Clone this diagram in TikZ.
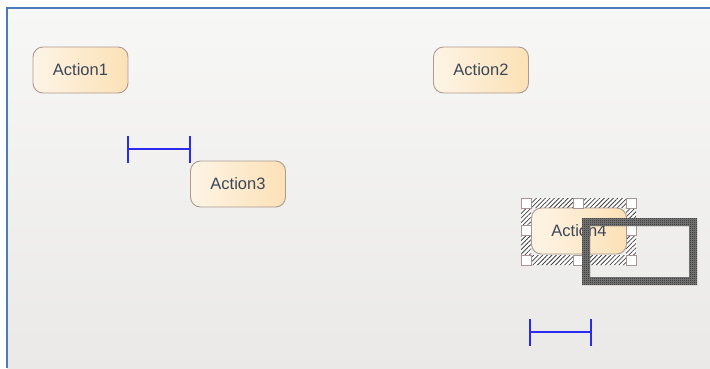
\documentclass[tikz,border=0pt]{standalone}
\usepackage{fontspec}
\setmainfont{Liberation Sans}
\usetikzlibrary{patterns.meta}
\definecolor{frameblue}{HTML}{4A7BBD}
\definecolor{bgtop}{HTML}{F7F7F6}
\definecolor{bgbot}{HTML}{EAE9E8}
\definecolor{actleft}{HTML}{FDF4E6}
\definecolor{actright}{HTML}{FCE1B6}
\definecolor{actborder}{HTML}{AD9A92}
\definecolor{acttext}{HTML}{3C4656}
\definecolor{barblue}{HTML}{2A2AF0}
\definecolor{handleborder}{HTML}{A89696}
\definecolor{checkbase}{HTML}{7A7A7A}
\definecolor{checkdark}{HTML}{262626}

\pgfdeclarepattern{
  name=checkers,
  bottom left={\pgfpoint{0pt}{0pt}},
  top right={\pgfpoint{2pt}{2pt}},
  tile size={\pgfpoint{2pt}{2pt}},
  code={
    \pgfpathrectangle{\pgfpoint{0pt}{0pt}}{\pgfpoint{1pt}{1pt}}
    \pgfpathrectangle{\pgfpoint{1pt}{1pt}}{\pgfpoint{1pt}{1pt}}
    \pgfusepath{fill}
  }
}

\tikzset{
  action/.style={rounded corners=10pt, draw=actborder, line width=0.9pt,
    left color=actleft, right color=actright,
    minimum width=95pt, minimum height=46pt, inner sep=0pt,
    text=acttext, font=\fontsize{16.5}{18}\selectfont},
  hbar/.style={draw=barblue, line width=1.3pt},
  handle/.style={draw=handleborder, fill=white, line width=0.6pt},
}

\begin{document}
\begin{tikzpicture}[x=1pt, y=-1pt]
  \useasboundingbox (0,0) rectangle (710,368);
  % canvas and its frame
  \fill[white] (0,0) rectangle (710,368);
  \shade[top color=bgtop, bottom color=bgbot] (7,8) rectangle (710,368);
  \draw[frameblue, line width=2pt] (7,368) -- (7,8) -- (710,8);

  % actions
  \node[action] (a1) at (80.5,70) {Action1};
  \node[action] (a2) at (481,70) {Action2};
  \node[action] (a3) at (238,184) {Action3};

  % selection frame round Action4
  \fill[even odd rule, white] (521,198) rectangle (636,265) (531,208) rectangle (626,255);
  \fill[even odd rule, pattern={Lines[angle=45, distance=3.2pt, line width=0.8pt]},
        pattern color=black!75]
        (521,198) rectangle (636,265) (531,208) rectangle (626,255);
  \node[action] (a4) at (579,231) {Action4};
  \foreach \hx in {521,573,626}
    \foreach \hy in {198,255}
      \draw[handle] (\hx,\hy) rectangle ++(10,10);
  \draw[handle] (521,225) rectangle ++(10,10);
  \draw[handle] (626,225) rectangle ++(10,10);

  % dragged outline
  \fill[even odd rule, checkbase] (582,218) rectangle (697,285) (590,226) rectangle (689,277);
  \fill[even odd rule, pattern=checkers, pattern color=checkdark]
        (582,218) rectangle (697,285) (590,226) rectangle (689,277);

  % bars
  \coordinate (b1l) at (128,149);
  \coordinate (b1r) at (190,149);
  \draw[hbar] (b1l) -- (b1r);
  \draw[hbar] ([yshift=-14pt]b1l) -- ([yshift=13pt]b1l);
  \draw[hbar] ([yshift=-14pt]b1r) -- ([yshift=13pt]b1r);

  \coordinate (b2l) at (530,332);
  \coordinate (b2r) at (591,332);
  \draw[hbar] (b2l) -- (b2r);
  \draw[hbar] ([yshift=-14pt]b2l) -- ([yshift=13pt]b2l);
  \draw[hbar] ([yshift=-14pt]b2r) -- ([yshift=13pt]b2r);
\end{tikzpicture}
\end{document}
